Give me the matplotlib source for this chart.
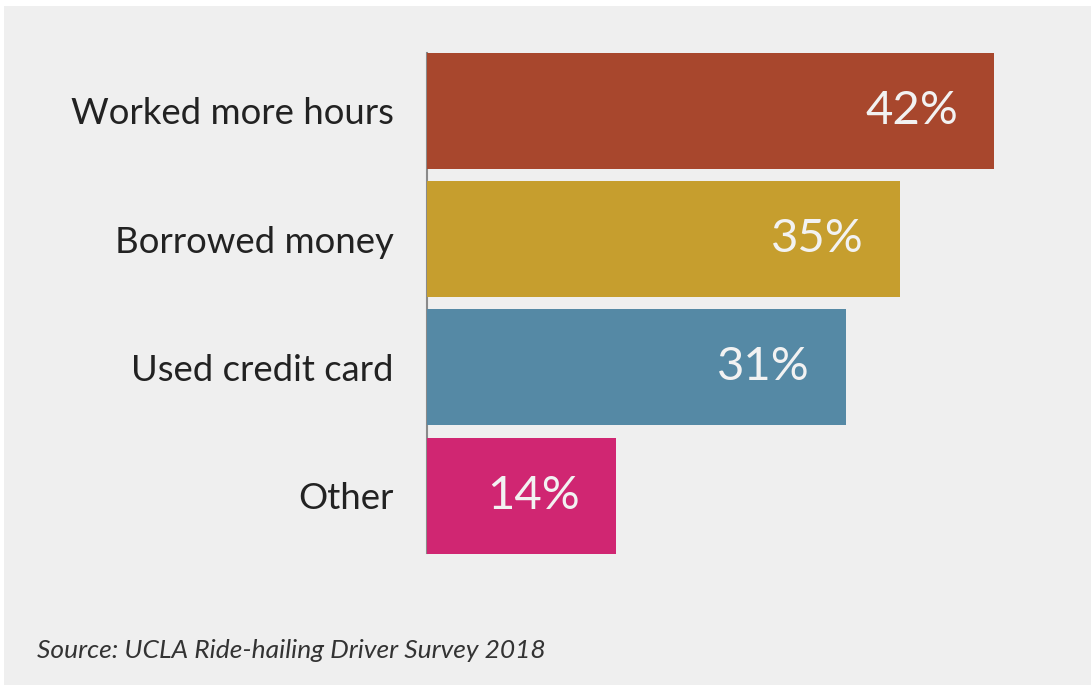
import matplotlib.pyplot as plt
from matplotlib.patches import Rectangle

# --- DATA ---
categories = ['Worked more hours', 'Borrowed money', 'Used credit card', 'Other']
shares = [42, 35, 31, 14]
bar_colors = ['#A8472D', '#C69E2E', '#5589A5', '#D02672']

W, H = 1091, 685
plt.rcParams['font.family'] = ['Lato', 'DejaVu Sans']

fig = plt.figure(figsize=(W / 100, H / 100), dpi=100)
fig.patch.set_facecolor('white')

# grey panel behind everything
panel = Rectangle((4 / W, 0), 1 - 4 / W, 1 - 6 / H, transform=fig.transFigure,
                  facecolor='#EFEFEF', edgecolor='none', zorder=0)
fig.add_artist(panel)

# axes placed in pixels: zero at x=427, 13.5 px per percent
x0, px_per_pct, xmax = 427, 13.5, 48
top_px, bot_px = 46.9, 559.6
ax = fig.add_axes([x0 / W, 1 - bot_px / H, px_per_pct * xmax / W, (bot_px - top_px) / H])
ax.set_facecolor('none')

ypos = list(range(len(categories)))
ax.barh(ypos, shares, height=0.905, color=bar_colors, zorder=2)
ax.set_xlim(0, xmax)
ax.set_ylim(len(categories) - 0.5, -0.5)

for y, v in zip(ypos, shares):
    ax.text(v - 36 / px_per_pct, y, f'{v}%', ha='right', va='center',
            color='#F2F2F2', fontsize=34, zorder=3)

ax.set_yticks(ypos)
ax.set_yticklabels(categories, fontsize=26.3, color='#222222')
ax.tick_params(axis='y', length=0, pad=24)
ax.set_xticks([])

for side in ['top', 'right', 'bottom']:
    ax.spines[side].set_visible(False)
ax.spines['left'].set_color('#8A8A8A')
ax.spines['left'].set_linewidth(1.5)
ax.spines['left'].set_bounds(-0.45, 3.45)
ax.spines['left'].set_zorder(1)

fig.text(37 / W, 1 - 658 / H, 'Source: UCLA Ride-hailing Driver Survey 2018',
         fontsize=19, style='italic', color='#333333', va='baseline', ha='left')

fig.savefig('out.png', dpi=100, facecolor=fig.get_facecolor())
